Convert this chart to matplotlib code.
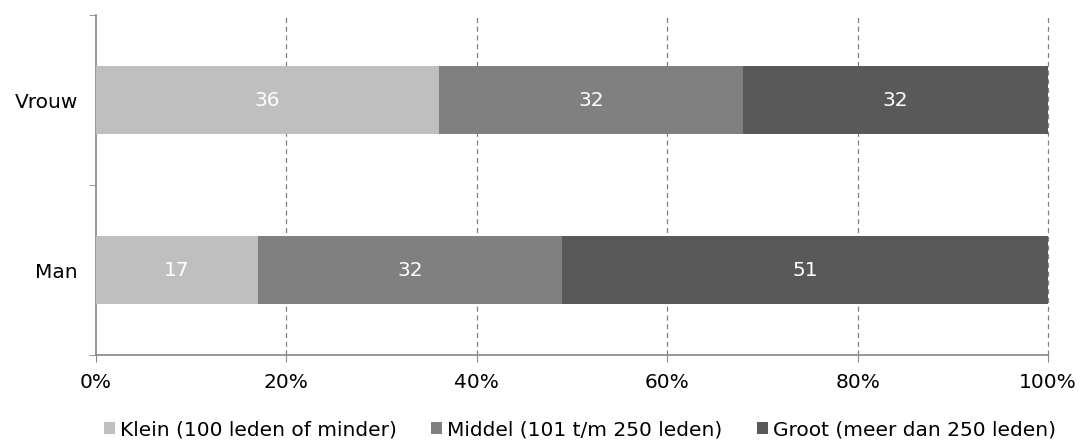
import matplotlib
matplotlib.use("Agg")
import matplotlib.pyplot as plt
from matplotlib.ticker import FixedLocator, PercentFormatter

categories = ["Man", "Vrouw"]
series_names = ["Klein (100 leden of minder)", "Middel (101 t/m 250 leden)", "Groot (meer dan 250 leden)"]
klein = [17, 36]
middel = [32, 32]
groot = [51, 32]
colors = ["#BFBFBF", "#808080", "#595959"]

plt.rcParams['font.family'] = ['DejaVu Sans']
FS = 14.5
fig = plt.figure(figsize=(10.81, 4.42), dpi=100)
ax = fig.add_axes([96/1081, 1-355/442, (1048-96)/1081, 340/442])

y = list(range(len(categories)))
left = [0]*len(categories)
for vals, name, c in zip([klein, middel, groot], series_names, colors):
    ax.barh(y, vals, left=left, height=0.4, color=c, label=name, zorder=3)
    for yi, v, l in zip(y, vals, left):
        ax.text(l + v/2, yi, str(v), ha='center', va='center', color='white', fontsize=FS, zorder=4)
    left = [a + b for a, b in zip(left, vals)]

ax.set_xlim(0, 100)
ax.set_ylim(-0.5, 1.5)
ax.xaxis.set_major_locator(FixedLocator([0, 20, 40, 60, 80, 100]))
ax.xaxis.set_major_formatter(PercentFormatter(decimals=0))
ax.set_yticks(y)
ax.set_yticklabels(categories)
ax.yaxis.set_minor_locator(FixedLocator([-0.5, 0.5, 1.5]))
ax.tick_params(axis='y', which='major', length=0, pad=13, labelsize=FS)
ax.tick_params(axis='y', which='minor', length=5, color='#888888', direction='out')
ax.tick_params(axis='x', length=5, color='#888888', direction='out', labelsize=FS, pad=8)

for x in [20, 40, 60, 80, 100]:
    ax.axvline(x, color='#808080', linestyle=(0, (4, 3)), linewidth=0.9, zorder=1, clip_on=False)

for s in ['top', 'right']:
    ax.spines[s].set_visible(False)
for s in ['left', 'bottom']:
    ax.spines[s].set_color('#888888')
    ax.spines[s].set_linewidth(1.2)

fig.legend(loc='center', bbox_to_anchor=(580/1081, 1-430/442), ncol=3, frameon=False,
           fontsize=FS, handlelength=0.55, handleheight=0.55, handletextpad=0.25,
           columnspacing=1.7, borderpad=0, borderaxespad=0)

fig.savefig("out.png", dpi=100)
